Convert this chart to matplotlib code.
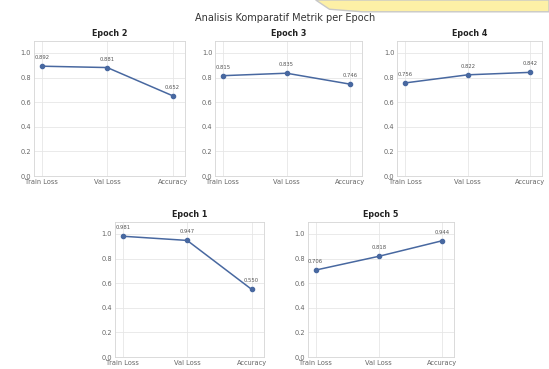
import matplotlib
matplotlib.use("Agg")
import matplotlib.pyplot as plt
import seaborn as sns
from matplotlib.patches import Polygon

metrics = ["Train Loss", "Val Loss", "Accuracy"]

# nilai per epoch
epoch1 = [0.981, 0.947, 0.550]
epoch2 = [0.892, 0.881, 0.652]
epoch3 = [0.815, 0.835, 0.746]
epoch4 = [0.756, 0.822, 0.842]
epoch5 = [0.706, 0.818, 0.944]

panels = [
    ("Epoch 2", epoch2, [0.062, 0.523, 0.275, 0.367]),
    ("Epoch 3", epoch3, [0.392, 0.523, 0.268, 0.367]),
    ("Epoch 4", epoch4, [0.724, 0.523, 0.264, 0.367]),
    ("Epoch 1", epoch1, [0.2095, 0.0325, 0.271, 0.367]),
    ("Epoch 5", epoch5, [0.561, 0.0325, 0.266, 0.367]),
]

sns.set_style("whitegrid")
plt.rcParams["font.family"] = ["DejaVu Sans"]

fig = plt.figure(figsize=(5.49, 3.69), dpi=100)

# bentuk kuning di pojok kanan atas
fig.patches.append(Polygon(
    [[0.575, 1.0], [0.60, 0.975], [0.66, 0.968], [1.0, 0.968], [1.0, 1.0]],
    closed=True, transform=fig.transFigure, facecolor="#fdf0a6",
    edgecolor="#c8c8c8", linewidth=1.0, zorder=0))

fig.suptitle("Analisis Komparatif Metrik per Epoch", x=0.519, y=0.965,
             fontsize=7, color="#333333")

for title, vals, pos in panels:
    ax = fig.add_axes(pos)
    x = range(len(metrics))
    ax.plot(x, vals, marker="o", markersize=3, color="#4868a0", linewidth=1.1)
    for i, v in zip(x, vals):
        ax.annotate(f"{v:.3f}", (i, v), textcoords="offset points", xytext=(0, 5),
                    ha="center", fontsize=3.8, color="#555555")
    ax.set_title(title, fontsize=5.8, fontweight="bold", pad=3, color="#222222")
    ax.set_xticks(list(x))
    ax.set_xticklabels(metrics)
    ax.set_ylim(0, 1.1)
    ax.set_yticks([0.0, 0.2, 0.4, 0.6, 0.8, 1.0])
    ax.set_xlim(-0.12, 2.19)
    ax.tick_params(labelsize=4.8, colors="#666666", pad=2, length=0)
    ax.grid(True, color="#e6e6e6", linewidth=0.6)
    for s in ax.spines.values():
        s.set_color("#d5d5d5")
        s.set_linewidth(0.6)

fig.savefig("out.png", dpi=100)
